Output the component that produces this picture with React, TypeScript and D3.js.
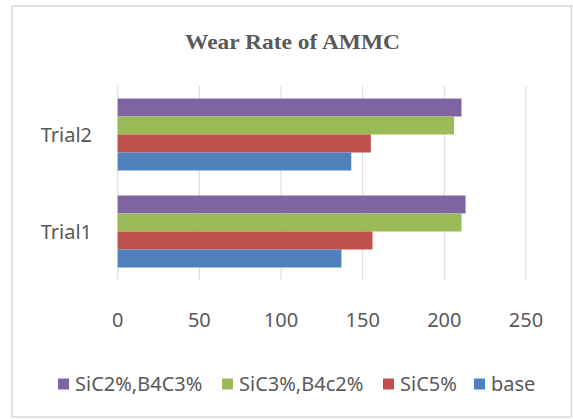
import React from "react";
import * as d3 from "d3";

const categories = ["Trial2", "Trial1"];
const seriesNames = ["SiC2%,B4C3%", "SiC3%,B4c2%", "SiC5%", "base"];
const seriesColors = ["#8064a2", "#9bbb59", "#c0504d", "#4f81bd"];
const purpleValues = [210.5, 213];
const greenValues = [206, 210.5];
const redValues = [155, 156];
const blueValues = [143, 137];
const xTicks = [0, 50, 100, 150, 200, 250];
const title = "Wear Rate of AMMC";

const W = 573;
const H = 419;
const plot = { left: 117.7, right: 526, top: 86, bottom: 280 };

export default function App() {
  const x = d3.scaleLinear().domain([0, 250]).range([plot.left, plot.right]);
  const y = d3
    .scaleBand<string>()
    .domain(categories)
    .range([plot.top, plot.bottom])
    .paddingInner(0.258)
    .paddingOuter(0.129);
  const inner = d3
    .scaleBand<string>()
    .domain(seriesNames)
    .range([0, y.bandwidth()]);
  const valueSets = [purpleValues, greenValues, redValues, blueValues];
  const font = "'Noto Sans', 'Open Sans', sans-serif";
  const textColor = "#595959";

  const legendX = [58, 222, 383, 474];

  return (
    <svg
      width={W}
      height={H}
      style={{ position: "absolute", left: 0, top: 0, background: "#fff" }}
    >
      <rect x={12} y={6} width={559.5} height={411} fill="#fff" stroke="#d9d9d9" strokeWidth={1.5} />
      <text
        x={292.5}
        y={49}
        textAnchor="middle"
        fontFamily="'Liberation Serif', 'Times New Roman', serif"
        fontWeight="bold"
        fontSize={22}
        fill={textColor}
        textLength={215}
        lengthAdjust="spacingAndGlyphs"
      >
        {title}
      </text>
      {xTicks.map((t) => (
        <line
          key={"g" + t}
          x1={x(t)}
          x2={x(t)}
          y1={plot.top}
          y2={plot.bottom}
          stroke="#d9d9d9"
          strokeWidth={1}
        />
      ))}
      {seriesNames.map((s, si) =>
        categories.map((c, ci) => (
          <rect
            key={s + c}
            x={x(0)}
            y={(y(c) as number) + (inner(s) as number)}
            width={x(valueSets[si][ci]) - x(0)}
            height={inner.bandwidth()}
            fill={seriesColors[si]}
          />
        ))
      )}
      {xTicks.map((t) => (
        <text
          key={"t" + t}
          x={x(t)}
          y={327}
          textAnchor="middle"
          fontFamily={font}
          fontSize={20}
          fill={textColor}
        >
          {t}
        </text>
      ))}
      {categories.map((c) => (
        <text
          key={"c" + c}
          x={92}
          y={(y(c) as number) + y.bandwidth() / 2 + 7}
          textAnchor="end"
          fontFamily={font}
          fontSize={20}
          fill={textColor}
        >
          {c}
        </text>
      ))}
      {seriesNames.map((s, i) => (
        <g key={"l" + s}>
          <rect x={legendX[i]} y={378.5} width={11} height={11} fill={seriesColors[i]} />
          <text
            x={legendX[i] + 17}
            y={391}
            fontFamily={font}
            fontSize={20}
            fill={textColor}
          >
            {s}
          </text>
        </g>
      ))}
    </svg>
  );
}
